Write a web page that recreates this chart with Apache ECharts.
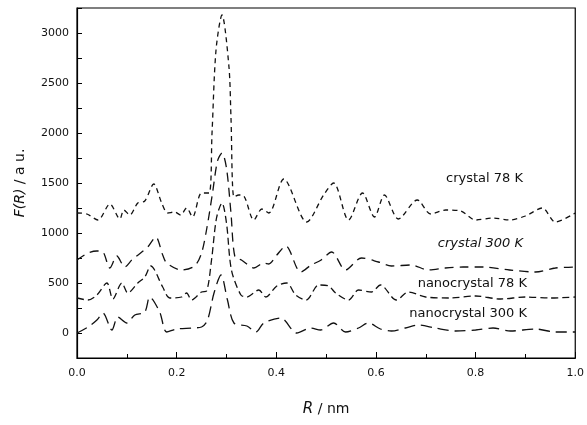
<!DOCTYPE html>
<html>

<head>
    <meta charset='UTF-8'>
    <script src="https://cdn.jsdelivr.net/npm/echarts@6/dist/echarts.min.js"></script>
    <style>
        body {
            margin: 0;
            background: #fff;
        }

        #chart {
            width: 587px;
            height: 425px;
        }
    </style>
    <title>F(R)</title>
</head>

<body>
    <div id="chart"></div>

    <script>
        // R in nm, F(R) in a.u. (curves already offset as in the figure)
        var rCrystal78 = [0.0, 0.02, 0.042, 0.066, 0.086, 0.094, 0.106, 0.122, 0.136, 0.154, 0.17, 0.182, 0.196, 0.208, 0.22, 0.232, 0.25, 0.265, 0.271, 0.279, 0.291, 0.305, 0.309, 0.315, 0.325, 0.335, 0.355, 0.371, 0.385, 0.415, 0.461, 0.495, 0.515, 0.545, 0.573, 0.597, 0.617, 0.645, 0.683, 0.71, 0.74, 0.77, 0.80, 0.835, 0.868, 0.90, 0.934, 0.96, 1.0];
        var fCrystal78 = [1200, 1190, 1130, 1290, 1140, 1230, 1180, 1300, 1320, 1490, 1300, 1200, 1210, 1180, 1250, 1160, 1400, 1400, 2000, 2830, 3180, 2660, 2160, 1360, 1380, 1370, 1130, 1240, 1200, 1540, 1110, 1380, 1500, 1130, 1400, 1160, 1380, 1140, 1330, 1190, 1230, 1220, 1130, 1150, 1130, 1170, 1250, 1110, 1200];

        var rCrystal300 = [0.0, 0.022, 0.04, 0.052, 0.066, 0.08, 0.096, 0.11, 0.13, 0.142, 0.158, 0.172, 0.18, 0.21, 0.236, 0.25, 0.261, 0.272, 0.282, 0.291, 0.30, 0.309, 0.317, 0.33, 0.355, 0.375, 0.385, 0.401, 0.419, 0.449, 0.47, 0.49, 0.511, 0.539, 0.571, 0.605, 0.631, 0.671, 0.705, 0.739, 0.775, 0.814, 0.868, 0.92, 0.96, 1.0];
        var fCrystal300 = [730, 800, 820, 810, 650, 770, 660, 730, 810, 860, 960, 780, 700, 630, 670, 800, 1060, 1400, 1720, 1800, 1650, 1200, 760, 730, 650, 700, 690, 780, 870, 610, 680, 730, 810, 630, 750, 710, 670, 680, 630, 650, 660, 660, 630, 610, 650, 660];

        var rNano78 = [0.0, 0.022, 0.04, 0.06, 0.072, 0.09, 0.102, 0.122, 0.136, 0.148, 0.172, 0.186, 0.21, 0.22, 0.23, 0.25, 0.26, 0.27, 0.28, 0.291, 0.30, 0.31, 0.329, 0.341, 0.365, 0.379, 0.401, 0.421, 0.439, 0.46, 0.485, 0.505, 0.519, 0.545, 0.565, 0.591, 0.609, 0.641, 0.665, 0.70, 0.75, 0.80, 0.85, 0.90, 0.95, 1.0];
        var fNano78 = [350, 330, 380, 500, 340, 500, 400, 500, 560, 670, 460, 350, 360, 400, 330, 410, 420, 730, 1150, 1300, 1100, 630, 380, 360, 430, 360, 470, 500, 380, 330, 480, 470, 400, 330, 430, 410, 480, 330, 410, 360, 350, 370, 340, 360, 350, 360];

        var rNano300 = [0.0, 0.022, 0.04, 0.052, 0.07, 0.082, 0.10, 0.116, 0.136, 0.146, 0.166, 0.18, 0.20, 0.23, 0.25, 0.262, 0.275, 0.289, 0.302, 0.315, 0.341, 0.359, 0.375, 0.409, 0.441, 0.469, 0.489, 0.515, 0.539, 0.565, 0.585, 0.609, 0.631, 0.659, 0.685, 0.719, 0.76, 0.80, 0.835, 0.87, 0.92, 0.96, 1.0];
        var fNano300 = [0, 60, 130, 200, 30, 160, 100, 180, 210, 360, 210, 10, 40, 50, 60, 130, 400, 580, 330, 100, 70, 10, 100, 150, 0, 50, 30, 100, 10, 50, 100, 40, 20, 50, 80, 50, 20, 30, 50, 20, 40, 10, 10];

        var curveNames = ['crystal 78 K', 'crystal 300 K', 'nanocrystal 78 K', 'nanocrystal 300 K'];

        function zip(xs, ys) {
            var out = [];
            for (var i = 0; i < xs.length; i++) out.push([xs[i], ys[i]]);
            return out;
        }

        var myChart = echarts.init(document.getElementById('chart'), null, {
            renderer: 'canvas'
        });

        function curve(data, dash) {
            return {
                type: 'line',
                data: data,
                smooth: 0.3,
                symbol: 'none',
                silent: true,
                lineStyle: {
                    color: '#111',
                    width: 1.3,
                    type: dash
                }
            };
        }

        function label(text, x, y, italic) {
            return {
                type: 'text',
                right: 587 - x,
                top: y - 8,
                style: {
                    text: text,
                    fill: '#111',
                    font: (italic ? 'italic ' : '') + '13px "DejaVu Sans", sans-serif'
                }
            };
        }

        var option = {
            backgroundColor: '#fff',
            animation: false,
            grid: {
                left: 77,
                right: 8,
                top: 8,
                bottom: 67,
                show: true,
                borderColor: '#000',
                borderWidth: 1.2,
                backgroundColor: 'transparent'
            },
            xAxis: {
                type: 'value',
                min: 0,
                max: 1,
                interval: 0.2,
                name: '{i|R} / nm',
                nameLocation: 'middle',
                nameGap: 44,
                nameTextStyle: {
                    color: '#111',
                    fontSize: 14,
                    fontFamily: 'DejaVu Sans',
                    rich: {
                        i: {
                            fontStyle: 'italic',
                            fontSize: 15,
                            fontFamily: 'DejaVu Sans'
                        }
                    }
                },
                axisLine: {
                    onZero: false,
                    lineStyle: { color: '#000', width: 1.2 }
                },
                axisTick: {
                    inside: true,
                    length: 6,
                    lineStyle: { color: '#000' }
                },
                minorTick: {
                    show: true,
                    splitNumber: 2,
                    length: 4,
                    lineStyle: { color: '#000' }
                },
                splitLine: { show: false },
                axisLabel: {
                    color: '#111',
                    fontSize: 11,
                    fontFamily: 'DejaVu Sans',
                    margin: 10,
                    formatter: function (v) {
                        return v.toFixed(1);
                    }
                }
            },
            yAxis: {
                type: 'value',
                min: -250,
                max: 3250,
                interval: 250,
                name: '{i|F(R)} / a u.',
                nameLocation: 'middle',
                nameGap: 50,
                nameTextStyle: {
                    color: '#111',
                    fontSize: 14,
                    fontFamily: 'DejaVu Sans',
                    rich: {
                        i: {
                            fontStyle: 'italic',
                            fontSize: 14,
                            fontFamily: 'DejaVu Sans'
                        }
                    }
                },
                axisLine: {
                    show: true,
                    onZero: false,
                    lineStyle: { color: '#000', width: 1.2 }
                },
                axisTick: {
                    inside: true,
                    length: 5,
                    lineStyle: { color: '#000' }
                },
                splitLine: { show: false },
                axisLabel: {
                    color: '#111',
                    fontSize: 11,
                    fontFamily: 'DejaVu Sans',
                    margin: 8,
                    formatter: function (v) {
                        return (v % 500 === 0 && v >= 0 && v <= 3000) ? String(v) : '';
                    }
                }
            },
            graphic: [
                label(curveNames[0], 523, 180, false),
                label(curveNames[1], 523, 245, true),
                label(curveNames[2], 527, 285, false),
                label(curveNames[3], 527, 315, false)
            ],
            series: [
                curve(zip(rCrystal78, fCrystal78), [5, 4]),
                curve(zip(rCrystal300, fCrystal300), [9, 6]),
                curve(zip(rNano78, fNano78), [7, 4]),
                curve(zip(rNano300, fNano300), [11, 6])
            ]
        };

        myChart.setOption(option);
        window.addEventListener('resize', myChart.resize);
    </script>
</body>

</html>
